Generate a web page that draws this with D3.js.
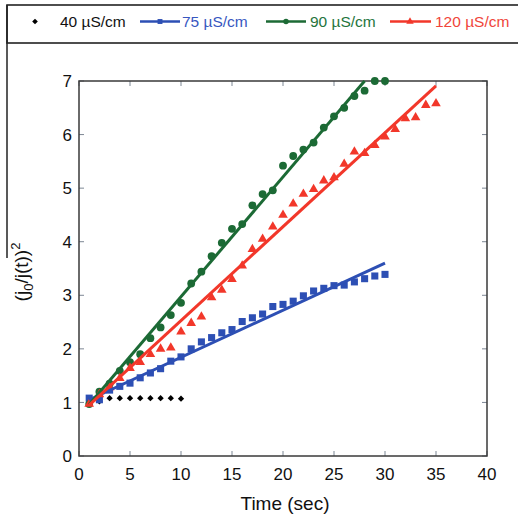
<!DOCTYPE html>
<html>
<head>
<meta charset="utf-8">
<script src="https://d3js.org/d3.v7.min.js"></script>
<style>
    body { margin: 0; background: #fff; }
    svg { display: block; font-family: "Liberation Sans", Arial, sans-serif; }
</style>
</head>
<body>
<div id="chart"></div>
<script>
// time points (sec)
var time40 = [1, 2, 3, 4, 5, 6, 7, 8, 9, 10];
var time75 = d3.range(1, 31);
var time90 = d3.range(1, 31);
var time120 = d3.range(1, 36);

// (j0/j(t))^2 values
var values40 = [1.0, 1.02, 1.08, 1.08, 1.08, 1.08, 1.08, 1.08, 1.08, 1.07];
var values75 = [1.08, 1.05, 1.23, 1.3, 1.36, 1.46, 1.55, 1.63, 1.77, 1.85,
    2.0, 2.13, 2.21, 2.3, 2.36, 2.51, 2.58, 2.65, 2.79, 2.83,
    2.89, 2.99, 3.08, 3.13, 3.18, 3.19, 3.25, 3.31, 3.36, 3.39];
var values90 = [0.97, 1.2, 1.35, 1.59, 1.75, 1.9, 2.2, 2.4, 2.63, 2.86,
    3.22, 3.44, 3.73, 3.98, 4.24, 4.33, 4.68, 4.89, 4.96, 5.42,
    5.6, 5.72, 5.85, 6.13, 6.34, 6.5, 6.72, 6.82, 7.0, 7.0];
var values120 = [0.97, 1.15, 1.28, 1.45, 1.64, 1.75, 1.9, 2.0, 2.02, 2.32,
    2.48, 2.6, 2.96, 3.1, 3.3, 3.55, 3.86, 4.05, 4.28, 4.5,
    4.71, 4.89, 4.98, 5.14, 5.2, 5.45, 5.68, 5.65, 5.8, 5.96,
    6.1, 6.3, 6.32, 6.55, 6.58];

// linear fit end points [x, y]
var fit75 = [[1, 1.05], [30, 3.6]];
var fit90 = [[1, 0.96], [28, 7.0]];
var fit120 = [[1, 0.95], [35, 6.91]];

var legendLabels = ["40 \u00b5S/cm", "75 \u00b5S/cm", "90 \u00b5S/cm", "120 \u00b5S/cm"];
var xTicks = [0, 5, 10, 15, 20, 25, 30, 35, 40];
var yTicks = [0, 1, 2, 3, 4, 5, 6, 7];

var svgWidth = 518;
var svgHeight = 521;

var margin = { top: 81, bottom: 65, left: 79, right: 31 };
var width = svgWidth - margin.left - margin.right;
var height = svgHeight - margin.top - margin.bottom;

var svg = d3.select("#chart")
    .append("svg")
    .attr("width", svgWidth)
    .attr("height", svgHeight);

// scales
var xScale = d3.scaleLinear().domain([0, 40]).range([margin.left, margin.left + width]);
var yScale = d3.scaleLinear().domain([0, 7]).range([margin.top + height, margin.top]);

// series styles (diamond = square turned 45 degrees)
var series = [
    { x: time40, y: values40, fit: null, color: "#000000", text: "#111111", symbol: d3.symbolSquare, size: 20, rot: 45 },
    { x: time75, y: values75, fit: fit75, color: "#2d4fb4", text: "#3756c0", symbol: d3.symbolSquare, size: 50, rot: 0 },
    { x: time90, y: values90, fit: fit90, color: "#1c6a35", text: "#24743c", symbol: d3.symbolCircle, size: 48, rot: 0 },
    { x: time120, y: values120, fit: fit120, color: "#f2372a", text: "#f0453a", symbol: d3.symbolTriangle, size: 40, rot: 0 }
];

// frame on the left side and legend box
svg.append("line")
    .attr("x1", 7).attr("x2", 7)
    .attr("y1", 5).attr("y2", 258)
    .attr("stroke", "#222")
    .attr("stroke-width", 1.5);

svg.append("rect")
    .attr("x", 7).attr("y", 5)
    .attr("width", 530).attr("height", 38)
    .attr("fill", "none")
    .attr("stroke", "#222")
    .attr("stroke-width", 1.6);

// legend
var legendPos = [
    { mark: 35, line: null, text: 60 },
    { mark: 160, line: [140, 180], text: 182 },
    { mark: 286, line: [266, 306], text: 310 },
    { mark: 410, line: [390, 431], text: 435 }
];

series.forEach(function(s, i) {
    var p = legendPos[i];
    if (p.line) {
        svg.append("line")
            .attr("x1", p.line[0]).attr("x2", p.line[1])
            .attr("y1", 21.5).attr("y2", 21.5)
            .attr("stroke", s.color)
            .attr("stroke-width", 2.5);
    }
    svg.append("path")
        .attr("d", d3.symbol().type(s.symbol).size(i == 0 ? 16 : 24)())
        .attr("transform", "translate(" + p.mark + ",21.5) rotate(" + s.rot + ")")
        .attr("fill", s.color);
    svg.append("text")
        .attr("x", p.text)
        .attr("y", 27)
        .attr("fill", s.text)
        .style("font-size", "15.5px")
        .text(legendLabels[i]);
});

// ticks pointing inward on all four sides
var tickLen = 5;
var ticks = svg.append("g")
    .attr("stroke", "#7d8794")
    .attr("stroke-width", 1);

xTicks.forEach(function(t) {
    ticks.append("line")
        .attr("x1", xScale(t)).attr("x2", xScale(t))
        .attr("y1", yScale(0)).attr("y2", yScale(0) - tickLen);
    ticks.append("line")
        .attr("x1", xScale(t)).attr("x2", xScale(t))
        .attr("y1", yScale(7)).attr("y2", yScale(7) + tickLen);
});
yTicks.forEach(function(t) {
    ticks.append("line")
        .attr("x1", xScale(0)).attr("x2", xScale(0) + tickLen)
        .attr("y1", yScale(t)).attr("y2", yScale(t));
    ticks.append("line")
        .attr("x1", xScale(40)).attr("x2", xScale(40) - tickLen)
        .attr("y1", yScale(t)).attr("y2", yScale(t));
});

// plot frame
svg.append("rect")
    .attr("x", xScale(0))
    .attr("y", yScale(7))
    .attr("width", xScale(40) - xScale(0))
    .attr("height", yScale(0) - yScale(7))
    .attr("fill", "none")
    .attr("stroke", "#3a3a3a")
    .attr("stroke-width", 1.5);

// tick labels
svg.append("g")
    .selectAll("text")
    .data(xTicks)
    .enter()
    .append("text")
    .attr("x", function(d) { return xScale(d); })
    .attr("y", 480)
    .attr("text-anchor", "middle")
    .style("font-size", "17px")
    .attr("fill", "#111")
    .text(function(d) { return d; });

svg.append("g")
    .selectAll("text")
    .data(yTicks)
    .enter()
    .append("text")
    .attr("x", 72)
    .attr("y", function(d) { return yScale(d); })
    .attr("dy", "0.36em")
    .attr("text-anchor", "end")
    .style("font-size", "17px")
    .attr("fill", "#111")
    .text(function(d) { return d; });

// markers
series.forEach(function(s) {
    svg.append("g")
        .selectAll("path")
        .data(s.x)
        .enter()
        .append("path")
        .attr("d", d3.symbol().type(s.symbol).size(s.size)())
        .attr("transform", function(d, i) {
            return "translate(" + xScale(d) + "," + yScale(s.y[i]) + ") rotate(" + s.rot + ")";
        })
        .attr("fill", s.color);
});

// fit lines
var line = d3.line()
    .x(function(d) { return xScale(d[0]); })
    .y(function(d) { return yScale(d[1]); });

series.forEach(function(s) {
    if (!s.fit) return;
    svg.append("path")
        .attr("d", line(s.fit))
        .attr("fill", "none")
        .attr("stroke", s.color)
        .attr("stroke-width", 3);
});

// axis titles
svg.append("text")
    .attr("x", 285)
    .attr("y", 510)
    .attr("text-anchor", "middle")
    .style("font-size", "19px")
    .attr("fill", "#111")
    .text("Time (sec)");

var yTitle = svg.append("text")
    .attr("transform", "translate(28,272) rotate(-90)")
    .attr("text-anchor", "middle")
    .style("font-size", "19px")
    .attr("fill", "#111");
yTitle.append("tspan").text("(j");
yTitle.append("tspan").attr("dy", 5).style("font-size", "13px").text("0");
yTitle.append("tspan").attr("dy", -5).text("/j(t))");
yTitle.append("tspan").attr("dy", -8).style("font-size", "13px").text("2");
</script>
</body>
</html>
